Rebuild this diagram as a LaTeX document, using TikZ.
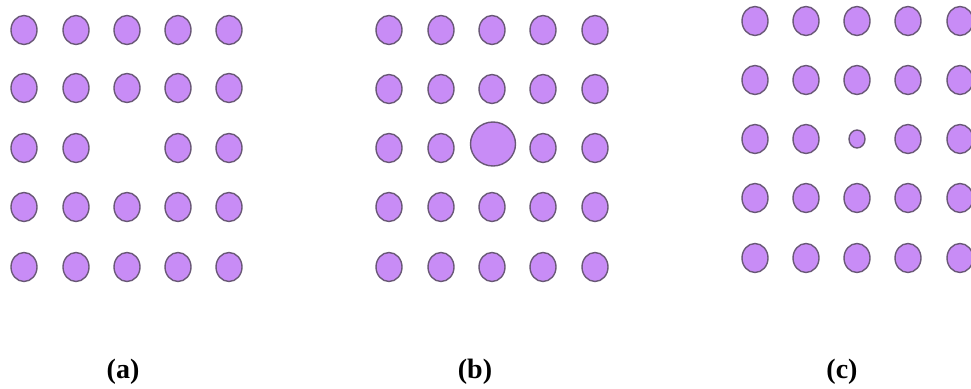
\documentclass[tikz,border=0pt]{standalone}
\usepackage{fontspec}
\setmainfont{Liberation Serif}
\usetikzlibrary{shapes.geometric}
\definecolor{dotfill}{RGB}{200,140,246}
\definecolor{dotedge}{RGB}{105,88,118}
\tikzset{
  dotnode/.style={ellipse, draw=dotedge, fill=dotfill, line width=1.4pt, inner sep=0pt,
    minimum width=26pt, minimum height=29pt},
  bigdot/.style={dotnode, minimum width=45pt, minimum height=44pt},
  smalldot/.style={dotnode, minimum width=16pt, minimum height=18pt},
  caption/.style={font=\fontsize{28}{32}\selectfont\bfseries, inner sep=0pt}
}
\begin{document}
\begin{tikzpicture}[x=1pt,y=-1pt]
\useasboundingbox (0,0) rectangle (971,388);
% grid (a): vacancy at centre
\foreach \c/\x in {1/24,2/76,3/127,4/178,5/229}{
  \foreach \r/\y in {1/30,2/88,3/148,4/207,5/267}{
    \ifnum\c=3 \ifnum\r=3 \else \node[dotnode] (a-\r-\c) at (\x,\y) {}; \fi
    \else \node[dotnode] (a-\r-\c) at (\x,\y) {}; \fi
  }
}
% grid (b): large atom at centre
\foreach \c/\x in {1/389,2/441,3/492,4/543,5/595}{
  \foreach \r/\y in {1/30,2/89,3/148,4/207,5/267}{
    \ifnum\c=3 \ifnum\r=3 \node[bigdot] (b-\r-\c) at (493,144) {}; \else \node[dotnode] (b-\r-\c) at (\x,\y) {}; \fi
    \else \node[dotnode] (b-\r-\c) at (\x,\y) {}; \fi
  }
}
% grid (c): small atom at centre
\foreach \c/\x in {1/755,2/806,3/857,4/908,5/960}{
  \foreach \r/\y in {1/21,2/80,3/139,4/198,5/258}{
    \ifnum\c=3 \ifnum\r=3 \node[smalldot] (c-\r-\c) at (\x,\y) {}; \else \node[dotnode] (c-\r-\c) at (\x,\y) {}; \fi
    \else \node[dotnode] (c-\r-\c) at (\x,\y) {}; \fi
  }
}
\node[caption] (la) at (123,372) {(a)};
\node[caption] (lb) at (475,372) {(b)};
\node[caption] (lc) at (842,372) {(c)};
\end{tikzpicture}
\end{document}
